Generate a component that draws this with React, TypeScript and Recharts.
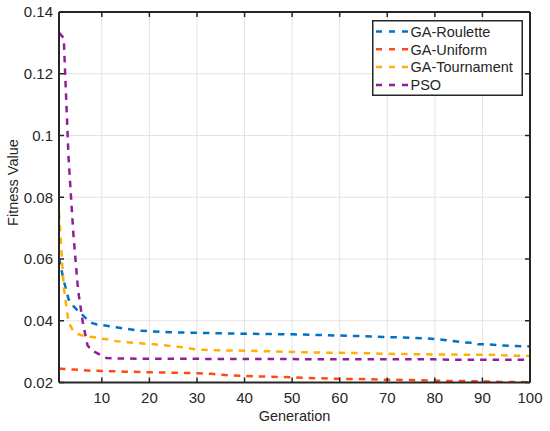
import React from 'react';
import { LineChart, Line, XAxis, YAxis, CartesianGrid } from 'recharts';

// generations where the curves change slope
const generations = [1, 2, 3, 4, 5, 6, 7, 8, 9, 10, 11, 13, 15, 18, 21, 24, 27, 30, 33, 36, 40, 45, 50, 55, 60, 65, 70, 75, 80, 83, 86, 88, 89, 91, 94, 97, 100];

const gaRoulette = [0.0603, 0.053, 0.047, 0.0448, 0.0432, 0.0418, 0.0403, 0.0392, 0.0388, 0.0386, 0.0384, 0.0379, 0.0374, 0.0368, 0.0365, 0.0363, 0.0362, 0.0361, 0.036, 0.0359, 0.0358, 0.0357, 0.0356, 0.0354, 0.0352, 0.035, 0.0347, 0.0345, 0.0341, 0.0336, 0.033, 0.0329, 0.0324, 0.0324, 0.032, 0.0318, 0.0317];
const gaUniform = [0.0245, 0.0244, 0.0243, 0.0242, 0.0241, 0.024, 0.0239, 0.0238, 0.0238, 0.0237, 0.0237, 0.0236, 0.0235, 0.0234, 0.0233, 0.0232, 0.0231, 0.023, 0.0228, 0.0224, 0.0221, 0.0219, 0.0217, 0.0214, 0.0212, 0.0211, 0.0209, 0.0208, 0.0206, 0.0205, 0.0205, 0.0204, 0.0204, 0.0203, 0.0202, 0.0202, 0.0201];
const gaTournament = [0.075, 0.051, 0.0395, 0.0367, 0.0357, 0.0352, 0.0349, 0.0347, 0.0345, 0.0342, 0.034, 0.0334, 0.0331, 0.0327, 0.0324, 0.0319, 0.0314, 0.0307, 0.0305, 0.0304, 0.0303, 0.0301, 0.0299, 0.0297, 0.0296, 0.0295, 0.0293, 0.0292, 0.0291, 0.0291, 0.029, 0.029, 0.029, 0.029, 0.0288, 0.0287, 0.0286];
const pso = [0.1333, 0.1315, 0.093, 0.0685, 0.05, 0.0395, 0.032, 0.0303, 0.0295, 0.0287, 0.0279, 0.0278, 0.0278, 0.0277, 0.0277, 0.0277, 0.0277, 0.0277, 0.0276, 0.0276, 0.0276, 0.0276, 0.0276, 0.0275, 0.0275, 0.0275, 0.0275, 0.0275, 0.0275, 0.0274, 0.0274, 0.0274, 0.0274, 0.0274, 0.0274, 0.0274, 0.0274];

const xTicks = [10, 20, 30, 40, 50, 60, 70, 80, 90, 100];
const yTicks = [0.02, 0.04, 0.06, 0.08, 0.1, 0.12, 0.14];

const series = [
  { key: 'roulette', name: 'GA-Roulette', color: '#0072C4' },
  { key: 'uniform', name: 'GA-Uniform', color: '#FF4A12' },
  { key: 'tournament', name: 'GA-Tournament', color: '#FFB000' },
  { key: 'pso', name: 'PSO', color: '#8E1F98' },
];

const data = generations.map((g, i) => ({
  gen: g,
  roulette: gaRoulette[i],
  uniform: gaUniform[i],
  tournament: gaTournament[i],
  pso: pso[i],
}));

const FONT = '"Liberation Sans", Arial, Helvetica, sans-serif';
const INK = '#262626';
const DASH = '6.5 6';

const tickStyle = { fontSize: 15, fill: INK, fontFamily: FONT };

const LegendBox = () => (
  <svg width={151} height={76} style={{ position: 'absolute', left: 372, top: 19.5 }}>
    <rect x={0.75} y={0.75} width={149.5} height={74.5} fill="#fff" stroke={INK} strokeWidth={1.5} />
    {series.map((s, i) => {
      const cy = 11.5 + i * 17.8;
      return (
        <g key={s.key}>
          <line x1={4} x2={36} y1={cy} y2={cy} stroke={s.color} strokeWidth={2.5} strokeDasharray="6 7" />
          <text x={38.5} y={cy + 5.2} fontSize={14.5} fontFamily={FONT} fill={INK}>{s.name}</text>
        </g>
      );
    })}
  </svg>
);

export default function App() {
  return (
    <div style={{ position: 'absolute', left: 0, top: 0, width: 550, height: 431, background: '#fff' }}>
      <LineChart width={550} height={431} data={data} margin={{ top: 11, right: 19, left: 9, bottom: 18.5 }}>
        <CartesianGrid stroke="#e3e3e3" strokeWidth={1} />
        <XAxis
          dataKey="gen"
          type="number"
          domain={[1, 100]}
          ticks={xTicks}
          allowDataOverflow
          height={30}
          tickSize={-5}
          tickMargin={15}
          tick={tickStyle}
          stroke={INK}
          strokeWidth={2}
          tickLine={{ stroke: INK, strokeWidth: 1.5 }}
          label={{
            content: () => (
              <text x={294.5} y={421} textAnchor="middle" fontSize={14.5} fontFamily={FONT} fill={INK}>Generation</text>
            ),
          }}
        />
        <XAxis
          xAxisId="top"
          orientation="top"
          dataKey="gen"
          type="number"
          domain={[1, 100]}
          ticks={xTicks}
          allowDataOverflow
          height={1}
          tickSize={-5}
          tickFormatter={() => ''}
          stroke={INK}
          strokeWidth={2}
          tickLine={{ stroke: INK, strokeWidth: 1.5 }}
        />
        <YAxis
          domain={[0.02, 0.14]}
          ticks={yTicks}
          allowDataOverflow
          width={50}
          tickSize={-5}
          tickMargin={11}
          tick={tickStyle}
          stroke={INK}
          strokeWidth={2}
          tickLine={{ stroke: INK, strokeWidth: 1.5 }}
          label={{
            content: () => (
              <text transform="translate(18.3,182.5) rotate(-90)" x={0} y={0} textAnchor="middle" fontSize={14.5} fontFamily={FONT} fill={INK}>Fitness Value</text>
            ),
          }}
        />
        <YAxis
          yAxisId="right"
          orientation="right"
          domain={[0.02, 0.14]}
          ticks={yTicks}
          allowDataOverflow
          width={1}
          tickSize={-5}
          tickFormatter={() => ''}
          stroke={INK}
          strokeWidth={2}
          tickLine={{ stroke: INK, strokeWidth: 1.5 }}
        />
        {series.map((s) => (
          <Line
            key={s.key}
            type="linear"
            dataKey={s.key}
            name={s.name}
            stroke={s.color}
            strokeWidth={2.5}
            strokeDasharray={DASH}
            dot={false}
            activeDot={false}
            isAnimationActive={false}
          />
        ))}
      </LineChart>
      <LegendBox />
    </div>
  );
}
